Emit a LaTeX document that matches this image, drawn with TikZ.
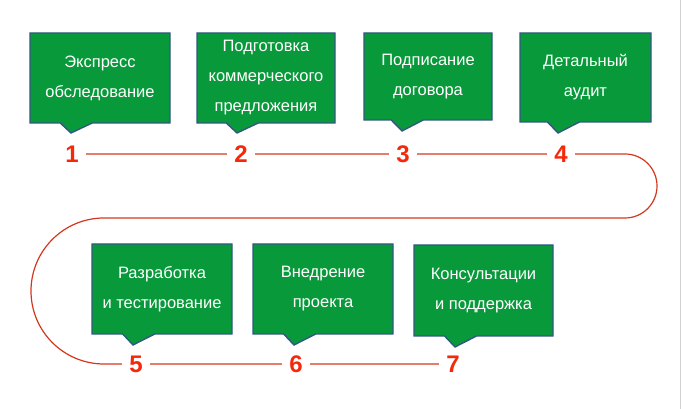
\documentclass[tikz,border=0pt]{standalone}
\usepackage{fontspec}
\setmainfont{Liberation Sans}
\usetikzlibrary{shapes.callouts}

\definecolor{boxgreen}{RGB}{8,154,58}
\definecolor{boxedge}{RGB}{48,88,130}
\definecolor{numred}{RGB}{245,40,10}
\definecolor{linered}{RGB}{212,55,30}

\begin{document}
\begin{tikzpicture}[
    x=1pt,y=1pt,
    stepbox/.style={rectangle callout,draw=boxedge,line width=1.4pt,fill=boxgreen,
      text=white,align=center,inner sep=0pt,callout pointer width=32pt,
      font=\fontsize{16.5}{30}\selectfont},
    stepnum/.style={fill=white,text=numred,inner xsep=7pt,inner ysep=2pt,
      font=\fontsize{24}{24}\selectfont\bfseries},
    path line/.style={draw=linered,line width=1.2pt}
    ]
\useasboundingbox (0,0) rectangle (681,409);
% FRAME EDGE
\draw[black!18,line width=0.8pt] (680,0) -- (680,409);

% ROUTE LINE
\coordinate (R1) at (625,255); % top right turn
\coordinate (R2) at (104,191); % left turn
\path[path line] (72,255) -- (R1) arc(90:-90:32) -- (R2) arc(90:270:73) -- (453,45);

% NUMBERS
\node[stepnum] (n1) at (72,255) {1};
\node[stepnum] (n2) at (241,255) {2};
\node[stepnum] (n3) at (403,255) {3};
\node[stepnum] (n4) at (561,255) {4};
\node[stepnum] (n5) at (136,45) {5};
\node[stepnum] (n6) at (296,45) {6};
\node[stepnum] (n7) at (453,45) {7};

% TOP ROW
\node[stepbox,minimum width=140,minimum height=90,
  callout absolute pointer={(71,276)}] (s1) at (100,331) {Экспресс\\обследование};
\node[stepbox,minimum width=138,minimum height=90,
  callout absolute pointer={(237,276)}] (s2) at (266,331) {Подготовка\\коммерческого\\предложения};
\node[stepbox,minimum width=128,minimum height=87,
  callout absolute pointer={(402,278)}] (s3) at (428,332.5) {Подписание\\договора};
\node[stepbox,minimum width=131,minimum height=89,
  callout absolute pointer={(558,276)}] (s4) at (585.5,331.5) {Детальный\\аудит};

% BOTTOM ROW
\node[stepbox,minimum width=140,minimum height=90,
  callout absolute pointer={(133,64)}] (s5) at (162,120) {Разработка\\и тестирование};
\node[stepbox,minimum width=140,minimum height=90,
  callout absolute pointer={(294,64)}] (s6) at (323,120) {Внедрение\\проекта};
\node[stepbox,minimum width=139,minimum height=91,
  callout absolute pointer={(455,62)}] (s7) at (483.5,118.5) {Консультации\\и поддержка};
\end{tikzpicture}
\end{document}
